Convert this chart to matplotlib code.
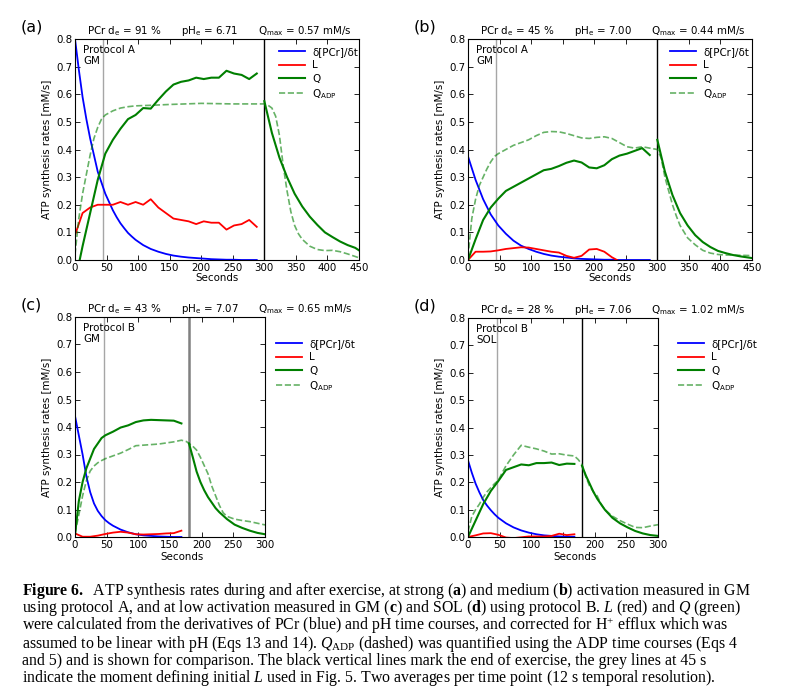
import numpy as np
import matplotlib
matplotlib.use('Agg')
import matplotlib.pyplot as plt

# ---- panel (a): protocol A, GM, strong activation ----
a_t_pcr = [0, 6, 12, 18, 24, 30, 36, 42, 48, 54, 60, 66, 72, 78, 84, 90, 96, 108, 120, 132, 144, 156, 168, 180, 192, 204, 216, 228, 240, 252, 264, 276, 288]
a_pcr = [0.80, 0.69, 0.59, 0.51, 0.44, 0.38, 0.32, 0.28, 0.24, 0.21, 0.18, 0.155, 0.133, 0.115, 0.098, 0.085, 0.073, 0.054, 0.040, 0.030, 0.022, 0.016, 0.012, 0.009, 0.007, 0.005, 0.003, 0.002, 0.001, 0.001, 0.0, 0.0, 0.0]
a_t_ex = [0, 12, 24, 36, 48, 60, 72, 84, 96, 108, 120, 132, 144, 156, 168, 180, 192, 204, 216, 228, 240, 252, 264, 276, 288]
a_L = [0.09, 0.17, 0.19, 0.20, 0.20, 0.20, 0.21, 0.20, 0.21, 0.20, 0.22, 0.19, 0.17, 0.15, 0.145, 0.14, 0.13, 0.14, 0.135, 0.135, 0.11, 0.125, 0.13, 0.145, 0.12]
a_Q = [-0.08, 0.05, 0.17, 0.29, 0.385, 0.435, 0.475, 0.51, 0.525, 0.55, 0.548, 0.58, 0.61, 0.635, 0.645, 0.65, 0.66, 0.655, 0.66, 0.66, 0.685, 0.675, 0.67, 0.655, 0.675]
a_t_rec = [300, 312, 324, 336, 348, 360, 372, 384, 396, 408, 420, 432, 444, 450]
a_Q_rec = [0.575, 0.46, 0.37, 0.30, 0.24, 0.194, 0.157, 0.127, 0.10, 0.083, 0.067, 0.054, 0.044, 0.035]
a_t_adp = [0, 6, 12, 18, 24, 30, 36, 42, 48, 60, 72, 84, 96, 120, 150, 200, 250, 300, 306, 312, 318, 324, 330, 336, 342, 348, 354, 360, 372, 384, 396, 408, 420, 432, 450]
a_adp = [0.02, 0.15, 0.24, 0.31, 0.38, 0.44, 0.48, 0.51, 0.525, 0.54, 0.55, 0.555, 0.558, 0.56, 0.563, 0.567, 0.565, 0.565, 0.56, 0.55, 0.52, 0.45, 0.34, 0.25, 0.175, 0.125, 0.095, 0.075, 0.05, 0.038, 0.034, 0.035, 0.03, 0.022, 0.008]

# ---- panel (b): protocol A, GM, medium activation ----
b_t_pcr = [0, 12, 24, 36, 48, 60, 72, 84, 96, 108, 120, 132, 144, 156, 168, 180, 192, 204, 216, 228, 240, 252, 264, 276, 288]
b_pcr = [0.375, 0.29, 0.22, 0.165, 0.125, 0.095, 0.07, 0.052, 0.04, 0.03, 0.022, 0.016, 0.012, 0.009, 0.006, 0.004, 0.003, 0.002, 0.001, 0.001, 0.0, 0.0, 0.0, 0.0, 0.0]
b_t_ex = b_t_pcr
b_L = [0.0, 0.03, 0.03, 0.031, 0.035, 0.04, 0.043, 0.046, 0.045, 0.04, 0.035, 0.03, 0.027, 0.015, 0.008, 0.015, 0.038, 0.04, 0.03, 0.01, -0.005, -0.01, -0.01, -0.01, -0.01]
b_Q = [0.0, 0.075, 0.145, 0.19, 0.222, 0.25, 0.265, 0.28, 0.295, 0.31, 0.325, 0.33, 0.34, 0.352, 0.36, 0.353, 0.335, 0.332, 0.343, 0.365, 0.378, 0.385, 0.395, 0.405, 0.38]
b_t_rec = [300, 312, 324, 336, 348, 360, 372, 384, 396, 408, 420, 432, 444, 450]
b_Q_rec = [0.435, 0.32, 0.235, 0.17, 0.125, 0.09, 0.065, 0.047, 0.033, 0.025, 0.018, 0.013, 0.009, 0.007]
b_t_adp = [0, 6, 12, 18, 24, 30, 36, 42, 48, 60, 72, 84, 96, 108, 120, 132, 144, 156, 168, 180, 192, 204, 216, 228, 240, 252, 264, 276, 288, 300, 306, 312, 318, 324, 330, 336, 348, 360, 372, 384, 396, 408, 420, 432, 450]
b_adp = [0.01, 0.15, 0.22, 0.27, 0.30, 0.33, 0.355, 0.375, 0.385, 0.40, 0.415, 0.425, 0.435, 0.45, 0.462, 0.465, 0.464, 0.458, 0.45, 0.442, 0.44, 0.444, 0.446, 0.44, 0.425, 0.41, 0.405, 0.41, 0.405, 0.40, 0.37, 0.30, 0.25, 0.20, 0.16, 0.125, 0.08, 0.055, 0.035, 0.025, 0.02, 0.018, 0.018, 0.017, 0.016]

# ---- panel (c): protocol B, GM ----
c_t_pcr = [0, 6, 12, 18, 24, 30, 36, 42, 48, 54, 60, 72, 84, 96, 108, 120, 132, 144, 156, 168]
c_pcr = [0.44, 0.37, 0.30, 0.22, 0.163, 0.122, 0.095, 0.076, 0.061, 0.05, 0.041, 0.027, 0.017, 0.01, 0.006, 0.004, 0.002, 0.001, 0.0, 0.0]
c_t_ex = [0, 12, 24, 36, 48, 60, 72, 84, 96, 108, 120, 132, 144, 156, 168]
c_L = [0.013, 0.001, 0.001, 0.005, 0.011, 0.016, 0.019, 0.016, 0.01, 0.009, 0.01, 0.011, 0.013, 0.014, 0.023]
c_t_Q = [0, 6, 12, 18, 24, 30, 36, 42, 48, 60, 72, 84, 96, 108, 120, 132, 144, 156, 168]
c_Q = [0.007, 0.13, 0.20, 0.25, 0.285, 0.32, 0.34, 0.36, 0.37, 0.383, 0.398, 0.406, 0.418, 0.424, 0.426, 0.425, 0.424, 0.423, 0.413]
c_t_rec = [180, 186, 192, 198, 204, 210, 216, 222, 228, 240, 252, 264, 276, 288, 300]
c_Q_rec = [0.34, 0.29, 0.238, 0.20, 0.17, 0.145, 0.125, 0.105, 0.09, 0.065, 0.045, 0.033, 0.023, 0.015, 0.01]
c_t_adp = [0, 6, 12, 18, 24, 30, 36, 42, 48, 60, 72, 84, 96, 108, 120, 132, 144, 156, 168, 176, 180, 186, 192, 198, 204, 210, 216, 222, 228, 234, 240, 252, 264, 276, 288, 300]
c_adp = [0.013, 0.08, 0.15, 0.205, 0.24, 0.258, 0.27, 0.278, 0.285, 0.295, 0.305, 0.318, 0.332, 0.334, 0.336, 0.338, 0.342, 0.346, 0.352, 0.347, 0.34, 0.33, 0.316, 0.29, 0.26, 0.23, 0.185, 0.15, 0.115, 0.088, 0.075, 0.065, 0.06, 0.056, 0.05, 0.044]

# ---- panel (d): protocol B, SOL ----
d_t_pcr = [0, 6, 12, 18, 24, 30, 36, 42, 48, 60, 72, 84, 96, 108, 120, 132, 144, 156, 168]
d_pcr = [0.28, 0.235, 0.195, 0.163, 0.135, 0.115, 0.098, 0.083, 0.07, 0.05, 0.035, 0.024, 0.016, 0.01, 0.006, 0.004, 0.002, 0.001, 0.001]
d_t_ex = c_t_ex
d_L = [0.0, 0.006, 0.013, 0.014, 0.008, -0.002, -0.004, -0.001, 0.002, 0.002, 0.002, 0.004, 0.012, 0.007, 0.01]
d_t_Q = c_t_ex
d_Q = [0.0, 0.06, 0.12, 0.168, 0.205, 0.245, 0.255, 0.265, 0.262, 0.27, 0.27, 0.272, 0.263, 0.268, 0.267]
d_t_rec = [180, 186, 192, 198, 204, 210, 216, 222, 228, 240, 252, 264, 276, 288, 300]
d_Q_rec = [0.26, 0.225, 0.195, 0.165, 0.14, 0.12, 0.10, 0.085, 0.07, 0.05, 0.035, 0.022, 0.013, 0.007, 0.004]
d_t_adp = [0, 6, 12, 18, 24, 30, 36, 42, 48, 54, 60, 72, 84, 96, 108, 120, 132, 144, 156, 168, 174, 180, 186, 192, 198, 204, 210, 216, 228, 240, 252, 264, 276, 288, 300]
d_adp = [0.02, 0.075, 0.10, 0.12, 0.145, 0.165, 0.18, 0.195, 0.207, 0.235, 0.26, 0.30, 0.335, 0.328, 0.322, 0.314, 0.303, 0.304, 0.299, 0.296, 0.283, 0.265, 0.22, 0.186, 0.165, 0.15, 0.12, 0.10, 0.076, 0.06, 0.047, 0.035, 0.034, 0.04, 0.045]

letters = ['(a)', '(b)', '(c)', '(d)']
pcr_depletion = ['91', '45', '43', '28']
ph_end = ['6.71', '7.00', '7.07', '7.06']
q_max = ['0.57', '0.44', '0.65', '1.02']
protocols = ['Protocol A\nGM', 'Protocol A\nGM', 'Protocol B\nGM', 'Protocol B\nSOL']
exercise_end = [300, 300, 180, 180]
x_max = [450, 450, 300, 300]

caption_lines = [
    r'$\mathbf{Figure\ 6.}$  ATP synthesis rates during and after exercise, at strong ($\mathbf{a}$) and medium ($\mathbf{b}$) activation measured in GM',
    r'using protocol A, and at low activation measured in GM ($\mathbf{c}$) and SOL ($\mathbf{d}$) using protocol B. $\mathit{L}$ (red) and $\mathit{Q}$ (green)',
    r'were calculated from the derivatives of PCr (blue) and pH time courses, and corrected for H$^{+}$ efflux which was',
    r'assumed to be linear with pH (Eqs 13 and 14). $\mathit{Q}_{\mathrm{ADP}}$ (dashed) was quantified using the ADP time courses (Eqs 4',
    r'and 5) and is shown for comparison. The black vertical lines mark the end of exercise, the grey lines at 45 s',
    r'indicate the moment defining initial $\mathit{L}$ used in Fig. 5. Two averages per time point (12 s temporal resolution).',
]

plt.rcParams.update({
    'font.family': 'DejaVu Sans',
    'font.size': 7.4,
    'mathtext.fontset': 'custom',
    'mathtext.rm': 'Liberation Serif',
    'mathtext.it': 'Liberation Serif:italic',
    'mathtext.bf': 'Liberation Serif:bold',
})

W, H = 800, 699


def fx(x):
    return x / W


def fy(y):
    return 1 - y / H


fig = plt.figure(figsize=(8, 6.99), dpi=100)

# pixel boxes of the four axes: left, top, right, bottom
boxes = [(75, 39, 359, 260), (468, 39, 752, 260), (75, 317, 265, 537), (468, 318, 658, 537)]
legend_pos = [(279, 47), (670, 47), (276, 339), (678, 339)]

panels = [
    (a_t_pcr, a_pcr, a_t_ex, a_L, a_t_ex, a_Q, a_t_rec, a_Q_rec, a_t_adp, a_adp),
    (b_t_pcr, b_pcr, b_t_ex, b_L, b_t_ex, b_Q, b_t_rec, b_Q_rec, b_t_adp, b_adp),
    (c_t_pcr, c_pcr, c_t_ex, c_L, c_t_Q, c_Q, c_t_rec, c_Q_rec, c_t_adp, c_adp),
    (d_t_pcr, d_pcr, d_t_ex, d_L, d_t_Q, d_Q, d_t_rec, d_Q_rec, d_t_adp, d_adp),
]

for i, data in enumerate(panels):
    t_pcr, pcr, t_L, L, t_Q, Q, t_rec, Q_rec, t_adp, adp = data
    l, t, r, b = boxes[i]
    ax = fig.add_axes([fx(l), fy(b), fx(r - l), (b - t) / H])

    ax.axvline(45, color='0.65', lw=1)
    if i == 2:
        ax.axvline(exercise_end[i], color='0.5', lw=1.8)
    else:
        ax.axvline(exercise_end[i], color='k', lw=1)

    h1, = ax.plot(t_pcr, pcr, color='#0000ff', lw=1.3, label='δ[PCr]/δt')
    h2, = ax.plot(t_L, L, color='#ff0000', lw=1.3, label='L')
    h3, = ax.plot(t_Q, Q, color='#007f00', lw=1.5, label='Q')
    ax.plot(t_rec, Q_rec, color='#007f00', lw=1.5)
    h4, = ax.plot(t_adp, adp, color='#007f00', lw=1.2, ls='--', alpha=0.6,
                  label=r'$\mathregular{Q_{ADP}}$')

    ax.set_xlim(0, x_max[i])
    ax.set_ylim(0, 0.8)
    ax.set_xticks(np.arange(0, x_max[i] + 1, 50))
    ax.set_yticks(np.arange(0, 0.81, 0.1))
    ax.yaxis.set_major_formatter(matplotlib.ticker.FormatStrFormatter('%.1f'))
    ax.tick_params(direction='in', top=True, right=True, length=3.5, width=0.6, pad=2)
    ax.set_xlabel('Seconds', labelpad=0)
    ax.set_ylabel('ATP synthesis rates [mM/s]', labelpad=3)
    if i >= 2:
        ax.xaxis.set_label_coords(0.565, -0.07)

    ax.text(8 / (r - l), 1 - 6 / (b - t), protocols[i], transform=ax.transAxes,
            va='top', ha='left', linespacing=1.15)

    # header line above each panel
    ty = t - 8
    fig.text(fx(l + 12), fy(ty), r'PCr $\mathregular{d_e}$ = %s %%' % pcr_depletion[i], va='center', ha='left')
    fig.text(fx(l + 135), fy(ty), r'p$\mathregular{H_e}$ = %s' % ph_end[i], va='center', ha='center')
    fig.text(fx(l + 277), fy(ty), r'$\mathregular{Q_{max}}$ = %s mM/s' % q_max[i], va='center', ha='right')
    fig.text(fx(l - 54), fy(t - 12), letters[i], fontsize=11.5, va='center', ha='left')

    lx, ly = legend_pos[i]
    fig.legend([h1, h2, h3, h4], [h.get_label() for h in (h1, h2, h3, h4)],
               loc='upper left', bbox_to_anchor=(fx(lx), fy(ly)), frameon=False,
               borderpad=0, borderaxespad=0, handlelength=2.5, handletextpad=0.7,
               labelspacing=0.32, fontsize=7.4)

for k, line in enumerate(caption_lines):
    fig.text(fx(22), fy(595 + 17.5 * k), line, family='Liberation Serif',
             fontsize=11.4, va='baseline', ha='left')

fig.savefig('out.png', dpi=100)
